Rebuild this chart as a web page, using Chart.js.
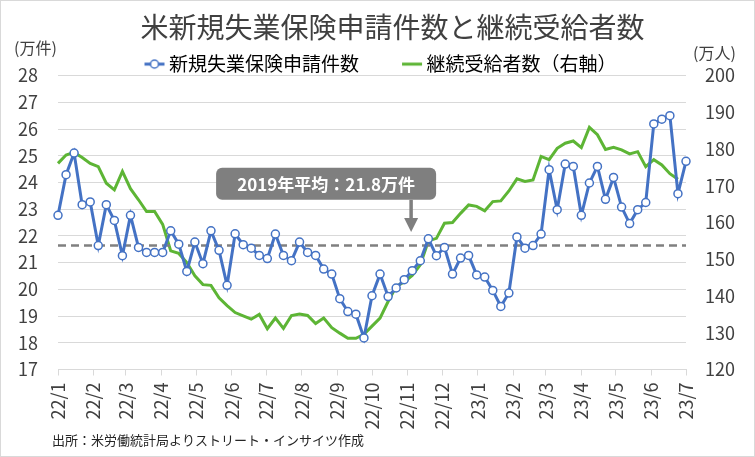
<!DOCTYPE html>
<html lang="ja">
<head>
<meta charset="utf-8">
<title>米新規失業保険申請件数と継続受給者数</title>
<script src="https://cdn.jsdelivr.net/npm/chart.js@4.4.1/dist/chart.umd.min.js"></script>
<style>
  html, body { margin: 0; padding: 0; background: #fff; }
  #wrap { width: 755px; height: 457px; box-sizing: border-box; border: 1px solid #d9d9d9; }
  canvas { display: block; }
</style>
</head>
<body>
<div id="wrap"><canvas id="claimsChart" width="753" height="455"></canvas></div>
<script>
// week-ending dates (Saturday)
const weekDates = [
  '2022-01-01', '2022-01-08', '2022-01-15', '2022-01-22', '2022-01-29',
  '2022-02-05', '2022-02-12', '2022-02-19', '2022-02-26',
  '2022-03-05', '2022-03-12', '2022-03-19', '2022-03-26',
  '2022-04-02', '2022-04-09', '2022-04-16', '2022-04-23', '2022-04-30',
  '2022-05-07', '2022-05-14', '2022-05-21', '2022-05-28',
  '2022-06-04', '2022-06-11', '2022-06-18', '2022-06-25',
  '2022-07-02', '2022-07-09', '2022-07-16', '2022-07-23', '2022-07-30',
  '2022-08-06', '2022-08-13', '2022-08-20', '2022-08-27',
  '2022-09-03', '2022-09-10', '2022-09-17', '2022-09-24',
  '2022-10-01', '2022-10-08', '2022-10-15', '2022-10-22', '2022-10-29',
  '2022-11-05', '2022-11-12', '2022-11-19', '2022-11-26',
  '2022-12-03', '2022-12-10', '2022-12-17', '2022-12-24', '2022-12-31',
  '2023-01-07', '2023-01-14', '2023-01-21', '2023-01-28',
  '2023-02-04', '2023-02-11', '2023-02-18', '2023-02-25',
  '2023-03-04', '2023-03-11', '2023-03-18', '2023-03-25',
  '2023-04-01', '2023-04-08', '2023-04-15', '2023-04-22', '2023-04-29',
  '2023-05-06', '2023-05-13', '2023-05-20', '2023-05-27',
  '2023-06-03', '2023-06-10', '2023-06-17', '2023-06-24',
  '2023-07-01'
];

// 新規失業保険申請件数 (万件, left axis)
const initialClaims = [
  22.77, 24.29, 25.10, 23.17, 23.27, 21.64, 23.17, 22.58, 21.26, 22.77,
  21.57, 21.38, 21.38, 21.38, 22.19, 21.69, 20.67, 21.77, 20.96, 22.19,
  21.46, 20.15, 22.08, 21.67, 21.54, 21.27, 21.15, 22.07, 21.27, 21.07,
  21.77, 21.38, 21.27, 20.76, 20.57, 19.65, 19.17, 19.07, 18.18, 19.76,
  20.57, 19.73, 20.05, 20.36, 20.70, 21.07, 21.89, 21.26, 21.57, 20.57,
  21.17, 21.27, 20.54, 20.46, 19.96, 19.36, 19.86, 21.96, 21.54, 21.64,
  22.07, 24.48, 22.98, 24.69, 24.60, 22.77, 23.98, 24.60, 23.37, 24.19,
  23.08, 22.46, 22.98, 23.25, 26.19, 26.37, 26.50, 23.58, 24.79
];

// 継続受給者数 (万人, right axis) - one week behind
const continuingClaims = [
  176.1, 178.4, 179.1, 177.7, 176.1, 175.2, 170.7, 168.9, 173.9, 169.2,
  166.2, 163.0, 163.0, 159.5, 152.3, 151.6, 149.1, 145.5, 143.1, 142.9,
  139.5, 137.4, 135.5, 134.6, 133.7, 135.0, 131.1, 134.0, 131.2, 134.7,
  135.1, 134.7, 132.5, 134.0, 131.4, 129.9, 128.5, 128.5, 129.6, 131.8,
  134.0, 138.5, 142.6, 143.8, 145.6, 148.5, 155.0, 155.7, 159.8, 160.0,
  162.5, 164.8, 164.4, 163.2, 165.7, 165.9, 168.6, 171.9, 171.2, 171.6,
  178.0, 177.1, 180.2, 181.6, 182.2, 180.4, 185.9, 183.9, 179.9, 180.5,
  179.8, 178.7, 179.3, 175.2, 177.1, 175.7, 173.3, 171.8
];

const monthLabels = [
  '22/1', '22/2', '22/3', '22/4', '22/5', '22/6', '22/7', '22/8', '22/9', '22/10',
  '22/11', '22/12', '23/1', '23/2', '23/3', '23/4', '23/5', '23/6', '23/7'
];

const avg2019Level = 21.64;
const avg2019Text = '2019年平均：21.8万件';
const avg2019ArrowDate = '2022-11-04';

const seriesNames = ['新規失業保険申請件数', '継続受給者数（右軸）'];
const titleText = '米新規失業保険申請件数と継続受給者数';
const sourceText = '出所：米労働統計局よりストリート・インサイツ作成';

const FONT = "'Noto Sans CJK JP', 'Noto Sans', sans-serif";
const BLUE = '#4472c4';
const GREEN = '#5db535';
const GRAY = '#808080';
const GRID = '#d9d9d9';

const origin = Date.UTC(2022, 0, 1);
function dayOf(str) {
  const [y, m, d] = str.split('-').map(Number);
  return (Date.UTC(y, m - 1, d) - origin) / 86400000;
}
const monthDays = monthLabels.map(l => {
  const [yy, mm] = l.split('/').map(Number);
  return (Date.UTC(2000 + yy, mm - 1, 1) - origin) / 86400000;
});

function legendIcon(color, withMarker) {
  const c = document.createElement('canvas');
  c.width = 24; c.height = 12;
  const g = c.getContext('2d');
  g.strokeStyle = color;
  g.lineWidth = 3;
  g.beginPath(); g.moveTo(2, 6); g.lineTo(22, 6); g.stroke();
  if (withMarker) {
    g.beginPath(); g.arc(12, 6, 4, 0, Math.PI * 2);
    g.fillStyle = '#fff'; g.fill();
    g.lineWidth = 1.5; g.stroke();
  }
  return c;
}
const blueIcon = legendIcon(BLUE, true);
const greenIcon = legendIcon(GREEN, false);

Chart.defaults.font.family = FONT;
Chart.defaults.color = '#404040';

// extra drawings: unit labels, source, 2019 average callout
const extrasPlugin = {
  id: 'extras',
  afterInit(chart) {
    const legend = chart.legend;
    const fit = legend.fit;
    legend.fit = function () { fit.call(this); this.height -= 8; };
  },
  afterLayout(chart) {
    chart.titleBlock.left += 30;
    chart.legend.left += 11;
  },
  afterDraw(chart) {
    const { ctx, scales } = chart;
    const x = scales.x, y = scales.y;
    ctx.save();
    ctx.fillStyle = '#404040';
    ctx.textBaseline = 'middle';
    ctx.textAlign = 'left';
    ctx.font = `16px ${FONT}`;
    ctx.fillText('(万件)', 13, 47);
    ctx.fillText('(万人)', 692, 52);
    ctx.font = `13px ${FONT}`;
    ctx.fillStyle = '#262626';
    ctx.fillText(sourceText, 51, 439);

    // callout
    const ax = x.getPixelForValue(dayOf(avg2019ArrowDate));
    const tipY = y.getPixelForValue(22.15);
    const boxTop = y.getPixelForValue(24.55);
    const boxBot = y.getPixelForValue(23.35);
    const boxRight = ax + 25, boxLeft = boxRight - 220;
    ctx.fillStyle = '#7f7f7f';
    ctx.beginPath();
    ctx.roundRect(boxLeft, boxTop, boxRight - boxLeft, boxBot - boxTop, 6);
    ctx.fill();
    ctx.fillStyle = '#fff';
    ctx.font = `bold 17px ${FONT}`;
    ctx.textAlign = 'center';
    ctx.fillText(avg2019Text, (boxLeft + boxRight) / 2, (boxTop + boxBot) / 2 + 1);

    ctx.strokeStyle = '#7f7f7f';
    ctx.fillStyle = '#7f7f7f';
    ctx.lineWidth = 3.5;
    ctx.beginPath(); ctx.moveTo(ax, boxBot); ctx.lineTo(ax, tipY - 12); ctx.stroke();
    ctx.beginPath();
    ctx.moveTo(ax - 7, tipY - 14); ctx.lineTo(ax + 7, tipY - 14); ctx.lineTo(ax, tipY);
    ctx.closePath(); ctx.fill();
    ctx.restore();
  }
};

new Chart(document.getElementById('claimsChart'), {
  type: 'line',
  data: {
    datasets: [
      {
        label: seriesNames[0],
        data: weekDates.map((d, i) => ({ x: dayOf(d), y: initialClaims[i] })),
        yAxisID: 'y',
        borderColor: BLUE,
        borderWidth: 3,
        pointRadius: 4,
        pointBackgroundColor: '#fff',
        pointBorderColor: BLUE,
        pointBorderWidth: 1.5,
        tension: 0,
        clip: false
      },
      {
        label: '2019年平均',
        data: [{ x: 0, y: avg2019Level }, { x: monthDays[monthDays.length - 1], y: avg2019Level }],
        yAxisID: 'y',
        borderColor: GRAY,
        borderWidth: 2.5,
        borderDash: [8, 5],
        pointRadius: 0
      },
      {
        label: seriesNames[1],
        data: weekDates.slice(0, continuingClaims.length).map((d, i) => ({ x: dayOf(d), y: continuingClaims[i] })),
        yAxisID: 'y2',
        borderColor: GREEN,
        borderWidth: 3,
        pointRadius: 0,
        tension: 0,
        clip: false
      }
    ]
  },
  options: {
    responsive: false,
    animation: false,
    layout: { padding: { top: 0, left: 0, right: 0, bottom: 0 } },
    plugins: {
      title: {
        display: true,
        text: titleText,
        color: '#404040',
        font: { size: 28, weight: 'normal' },
        padding: { top: 10, bottom: 0 }
      },
      legend: {
        display: true,
        labels: {
          usePointStyle: true,
          pointStyleWidth: 10,
          color: '#404040',
          font: { size: 19 },
          padding: 10,
          generateLabels: () => [
            { text: seriesNames[0] + '\u3000\u3000', pointStyle: blueIcon, fillStyle: BLUE, strokeStyle: BLUE, lineWidth: 0, datasetIndex: 0, hidden: false },
            { text: seriesNames[1], pointStyle: greenIcon, fillStyle: GREEN, strokeStyle: GREEN, lineWidth: 0, datasetIndex: 2, hidden: false }
          ]
        }
      },
      tooltip: { enabled: false }
    },
    scales: {
      x: {
        type: 'linear',
        min: 0,
        max: monthDays[monthDays.length - 1],
        afterBuildTicks: scale => { scale.ticks = monthDays.map(v => ({ value: v })); },
        afterFit: scale => { scale.height = 86.5; },
        ticks: {
          autoSkip: false,
          maxRotation: 90,
          minRotation: 90,
          padding: 7,
          color: '#404040',
          font: { size: 18 },
          callback: (v, i) => monthLabels[i]
        },
        grid: { drawOnChartArea: false, drawTicks: true, tickLength: 6, color: GRID },
        border: { color: GRID }
      },
      y: {
        position: 'left',
        min: 17,
        max: 28,
        afterFit: scale => { scale.width = 57; },
        ticks: { stepSize: 1, padding: 20, color: '#404040', font: { size: 18 } },
        grid: { color: GRID, drawTicks: false },
        border: { display: false }
      },
      y2: {
        position: 'right',
        min: 120,
        max: 200,
        afterFit: scale => { scale.width = 68; },
        ticks: { stepSize: 10, padding: 19, color: '#404040', font: { size: 18 } },
        grid: { display: false, drawTicks: false },
        border: { display: false }
      }
    }
  },
  plugins: [extrasPlugin]
});
</script>
</body>
</html>
